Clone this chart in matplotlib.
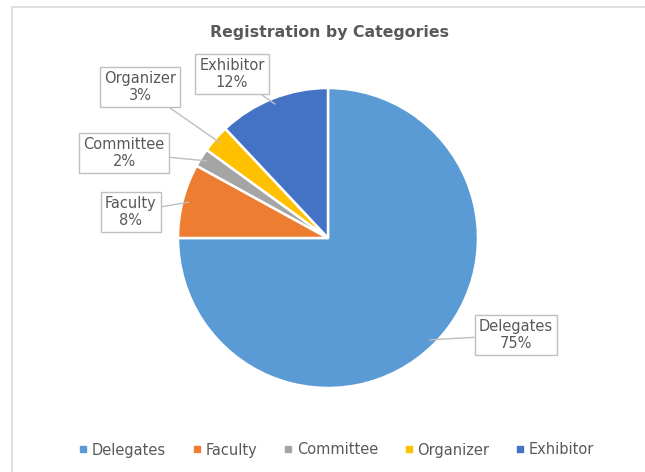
import numpy as np
import matplotlib
matplotlib.use("Agg")
import matplotlib.pyplot as plt
from matplotlib.lines import Line2D
from matplotlib.patches import Rectangle

categories = ["Delegates", "Faculty", "Committee", "Organizer", "Exhibitor"]
shares = [75, 8, 2, 3, 12]
colors = ["#5B9BD5", "#ED7D31", "#A5A5A5", "#FFC000", "#4472C4"]
# label box centres in pixels (x from left, y from top)
label_pos = [(516, 335), (131, 212), (124, 153), (140, 87), (232, 74)]

W, H = 645, 472
cx, cy, R = 328, 238, 150

fig = plt.figure(figsize=(W / 100, H / 100), dpi=100)
fig.patch.set_facecolor("white")
fig.patches.append(Rectangle((12 / W, -0.1), 1.2, (H - 7) / H + 0.1,
                             transform=fig.transFigure, fill=False,
                             edgecolor="#D9D9D9", linewidth=1.2))

ax = fig.add_axes([0, 0, 1, 1])

wedges, _ = ax.pie(shares, colors=colors, startangle=90, counterclock=False,
                   radius=1, center=(0, 0),
                   wedgeprops=dict(edgecolor="white", linewidth=1.8))
ax.set_aspect("equal", adjustable="datalim")
ax.set_xlim(-cx / R, (W - cx) / R)
ax.set_ylim(-(H - cy) / R, cy / R)
ax.axis("off")

def to_data(px, py):
    return ((px - cx) / R, (cy - py) / R)

for w, name, val, (px, py) in zip(wedges, categories, shares, label_pos):
    ang = np.deg2rad((w.theta1 + w.theta2) / 2)
    xy = (0.96 * np.cos(ang), 0.96 * np.sin(ang))
    ax.annotate(f"{name}\n{val}%", xy=xy, xytext=to_data(px, py),
                ha="center", va="center", fontsize=10.5, color="#595959",
                linespacing=1.15,
                bbox=dict(boxstyle="square,pad=0.3", fc="white",
                          ec="#BFBFBF", lw=1),
                arrowprops=dict(arrowstyle="-", color="#BFBFBF", lw=1,
                                shrinkA=0, shrinkB=0))

fig.text(330 / W, 1 - 32 / H, "Registration by Categories", ha="center",
         va="center", fontsize=11.3, fontweight="bold", color="#595959")

handles = [Line2D([], [], marker="s", linestyle="", markersize=5,
                  markerfacecolor=c, markeredgecolor=c) for c in colors]
fig.legend(handles, categories, loc="center", bbox_to_anchor=(335 / W, 1 - 450 / H),
           ncol=5, frameon=False, fontsize=10.5, labelcolor="#595959",
           handletextpad=0.1, columnspacing=1.6, handlelength=1.0)

fig.savefig("out.png", dpi=100)
